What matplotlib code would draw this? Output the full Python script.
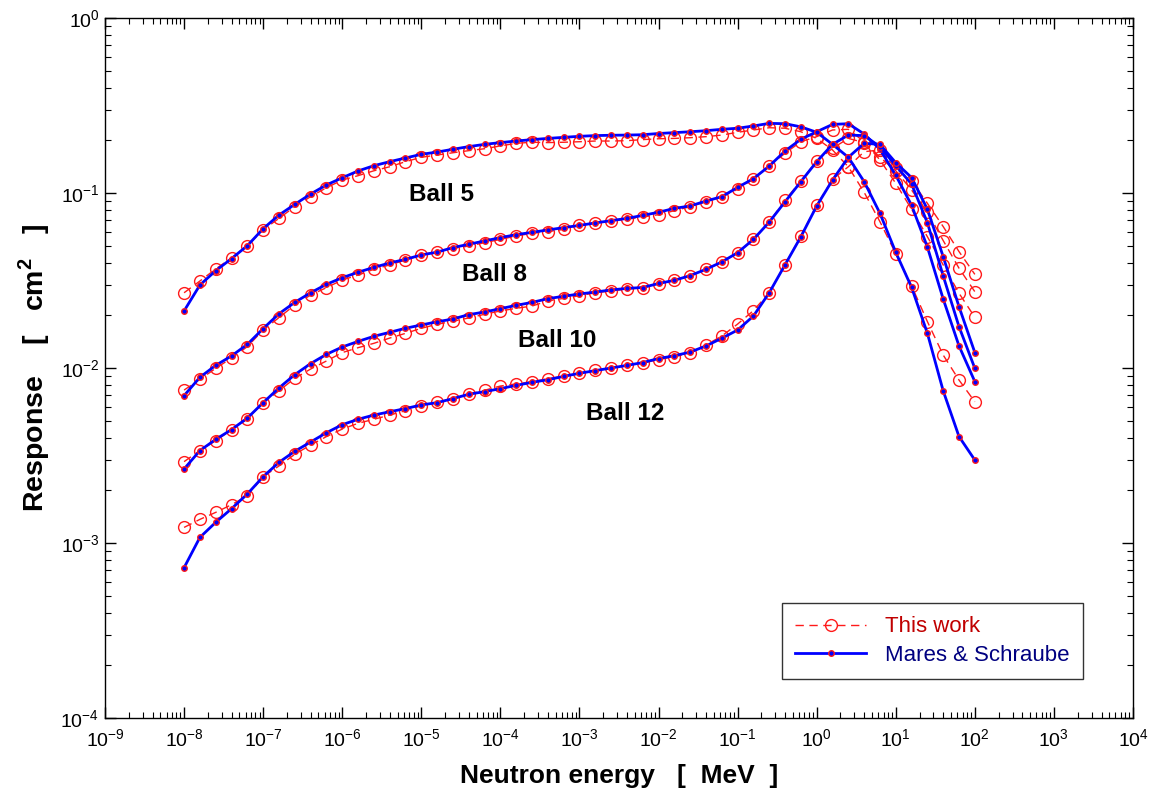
import numpy as np
import matplotlib
matplotlib.use("Agg")
import matplotlib.pyplot as plt
from matplotlib.ticker import LogLocator, NullFormatter

plt.rcParams['font.family'] = ['Liberation Sans', 'DejaVu Sans']
plt.rcParams['mathtext.fontset'] = 'custom'
plt.rcParams['mathtext.rm'] = 'Liberation Sans'
plt.rcParams['mathtext.bf'] = 'Liberation Sans:bold'

# Neutron energy grid, log10(E / MeV)
energy_log10 = [-8.0, -7.8, -7.6, -7.4, -7.2, -7.0, -6.8, -6.6, -6.4, -6.2,
                -6.0, -5.8, -5.6, -5.4, -5.2, -5.0, -4.8, -4.6, -4.4, -4.2,
                -4.0, -3.8, -3.6, -3.4, -3.2, -3.0, -2.8, -2.6, -2.4, -2.2,
                -2.0, -1.8, -1.6, -1.4, -1.2, -1.0, -0.8, -0.6, -0.4, -0.2,
                0.0, 0.2, 0.4, 0.6, 0.8, 1.0, 1.2, 1.4, 1.6, 1.8, 2.0]

# log10(response / cm^2)
ball5_mares = [-1.674, -1.526, -1.444, -1.375, -1.301, -1.204, -1.126, -1.065, -1.006, -0.954,
               -0.913, -0.874, -0.844, -0.821, -0.800, -0.779, -0.766, -0.750, -0.735, -0.722,
               -0.712, -0.703, -0.695, -0.688, -0.682, -0.676, -0.672, -0.670, -0.669, -0.667,
               -0.660, -0.655, -0.650, -0.644, -0.636, -0.630, -0.617, -0.602, -0.604, -0.622,
               -0.653, -0.722, -0.796, -0.935, -1.116, -1.339, -1.539, -1.802, -2.131, -2.392, -2.526]
ball5_this = [-1.570, -1.503, -1.434, -1.371, -1.301, -1.211, -1.145, -1.078, -1.021, -0.970,
              -0.926, -0.901, -0.873, -0.850, -0.821, -0.796, -0.783, -0.770, -0.758, -0.747,
              -0.731, -0.716, -0.710, -0.712, -0.710, -0.707, -0.703, -0.703, -0.701, -0.695,
              -0.690, -0.688, -0.684, -0.678, -0.669, -0.653, -0.640, -0.627, -0.630, -0.650,
              -0.688, -0.754, -0.850, -0.996, -1.164, -1.347, -1.530, -1.735, -1.926, -2.069, -2.193]

ball8_mares = [-2.158, -2.053, -1.985, -1.931, -1.865, -1.775, -1.690, -1.625, -1.570, -1.522,
               -1.484, -1.453, -1.425, -1.400, -1.379, -1.354, -1.338, -1.312, -1.293, -1.274,
               -1.255, -1.238, -1.225, -1.211, -1.198, -1.185, -1.171, -1.158, -1.145, -1.128,
               -1.110, -1.088, -1.074, -1.046, -1.021, -0.968, -0.918, -0.846, -0.760, -0.693,
               -0.650, -0.608, -0.604, -0.663, -0.750, -0.899, -1.070, -1.309, -1.606, -1.874, -2.078]
ball8_this = [-2.126, -2.065, -2.002, -1.943, -1.878, -1.783, -1.712, -1.640, -1.583, -1.541,
              -1.497, -1.469, -1.436, -1.411, -1.383, -1.354, -1.335, -1.318, -1.303, -1.284,
              -1.265, -1.246, -1.230, -1.221, -1.208, -1.183, -1.170, -1.160, -1.150, -1.137,
              -1.124, -1.101, -1.078, -1.050, -1.021, -0.979, -0.918, -0.846, -0.773, -0.707,
              -0.678, -0.640, -0.636, -0.707, -0.811, -0.945, -1.093, -1.250, -1.411, -1.573, -1.710]

ball10_mares = [-2.577, -2.472, -2.408, -2.352, -2.286, -2.198, -2.114, -2.038, -1.975, -1.922,
                -1.880, -1.848, -1.819, -1.796, -1.773, -1.754, -1.736, -1.720, -1.695, -1.680,
                -1.661, -1.642, -1.625, -1.604, -1.590, -1.577, -1.566, -1.554, -1.545, -1.540,
                -1.517, -1.499, -1.472, -1.436, -1.394, -1.341, -1.265, -1.166, -1.050, -0.935,
                -0.821, -0.722, -0.669, -0.672, -0.735, -0.844, -0.949, -1.170, -1.474, -1.764, -2.002]
ball10_this = [-2.535, -2.472, -2.415, -2.354, -2.291, -2.198, -2.130, -2.059, -2.006, -1.960,
               -1.912, -1.884, -1.859, -1.829, -1.802, -1.773, -1.750, -1.733, -1.714, -1.693,
               -1.674, -1.659, -1.646, -1.617, -1.602, -1.587, -1.570, -1.560, -1.549, -1.541,
               -1.520, -1.499, -1.472, -1.436, -1.394, -1.341, -1.265, -1.166, -1.040, -0.932,
               -0.817, -0.745, -0.688, -0.712, -0.796, -0.873, -0.983, -1.109, -1.272, -1.430, -1.564]

ball12_mares = [-3.141, -2.968, -2.882, -2.804, -2.720, -2.621, -2.539, -2.476, -2.423, -2.370,
                -2.324, -2.293, -2.269, -2.250, -2.232, -2.211, -2.198, -2.175, -2.150, -2.135,
                -2.118, -2.099, -2.082, -2.067, -2.048, -2.030, -2.015, -2.000, -1.985, -1.969,
                -1.946, -1.930, -1.909, -1.874, -1.830, -1.783, -1.703, -1.570, -1.410, -1.250,
                -1.074, -0.926, -0.796, -0.716, -0.722, -0.827, -0.912, -1.093, -1.364, -1.650, -1.912]
ball12_this = [-2.911, -2.865, -2.825, -2.781, -2.730, -2.621, -2.560, -2.493, -2.440, -2.392,
               -2.349, -2.316, -2.293, -2.269, -2.244, -2.215, -2.196, -2.175, -2.150, -2.127,
               -2.103, -2.091, -2.078, -2.061, -2.046, -2.030, -2.013, -2.000, -1.985, -1.972,
               -1.952, -1.935, -1.916, -1.869, -1.817, -1.749, -1.672, -1.570, -1.410, -1.246,
               -1.070, -0.922, -0.850, -0.764, -0.754, -0.859, -0.931, -1.059, -1.192, -1.335, -1.465]

ball_names = ["Ball 5", "Ball 8", "Ball 10", "Ball 12"]
this_series = [ball5_this, ball8_this, ball10_this, ball12_this]
mares_series = [ball5_mares, ball8_mares, ball10_mares, ball12_mares]
label_pos = [(1.8e-5, 0.0975), (8.4e-5, 0.034), (5.3e-4, 0.0143), (3.75e-3, 0.00553)]

E = 10.0 ** np.array(energy_log10)

fig = plt.figure(figsize=(11.55, 8.01), dpi=100)
ax = fig.add_axes([105/1155, 1 - 718/801, 1028/1155, 700/801])

red = '#ff1a1a'
blue = '#0000ff'
for i in range(4):
    ax.plot(E, 10.0 ** np.array(this_series[i]), color=red, lw=1.0, dashes=(6, 4),
            marker='o', ms=8.5, mfc='none', mec=red, mew=1.0, zorder=2,
            label='This work' if i == 0 else None)
for i in range(4):
    ax.plot(E, 10.0 ** np.array(mares_series[i]), color=blue, lw=2.0, ls='-',
            marker='o', ms=4, mfc=blue, mec=red, mew=1.0, zorder=3,
            label='Mares & Schraube' if i == 0 else None)

for name, (x, y) in zip(ball_names, label_pos):
    ax.text(x, y, name, fontsize=17.5, fontweight='bold', ha='center', va='center')

ax.set_xscale('log')
ax.set_yscale('log')
ax.set_xlim(1e-9, 1e4)
ax.set_ylim(1e-4, 1e0)
ax.xaxis.set_major_locator(LogLocator(base=10, numticks=30))
ax.yaxis.set_major_locator(LogLocator(base=10, numticks=30))
ax.xaxis.set_minor_locator(LogLocator(base=10, subs=np.arange(2, 10), numticks=200))
ax.yaxis.set_minor_locator(LogLocator(base=10, subs=np.arange(2, 10), numticks=200))
ax.xaxis.set_minor_formatter(NullFormatter())
ax.yaxis.set_minor_formatter(NullFormatter())
ax.tick_params(which='both', direction='in', top=True, right=True, labelsize=14)
ax.tick_params(which='major', length=8, width=1)
ax.tick_params(which='minor', length=4, width=0.8)
ax.tick_params(axis='x', which='major', pad=7)
ax.tick_params(axis='y', which='major', pad=4)
for s in ax.spines.values():
    s.set_linewidth(1.0)

ax.set_xlabel('Neutron energy   [  MeV  ]', fontsize=19, fontweight='bold', labelpad=10)
ax.set_ylabel('Response    [   cm$^{\\mathbf{2}}$   ]', fontsize=20.5, fontweight='bold', labelpad=6)

leg = ax.legend(loc='upper left', bbox_to_anchor=(0.6586, 0.1643), borderaxespad=0,
                fancybox=False, frameon=True, edgecolor='black', fontsize=16,
                handlelength=3.2, borderpad=0.6, labelspacing=0.35, handletextpad=0.85)
leg.get_frame().set_linewidth(1.0)
leg.get_texts()[0].set_color('#c00000')
leg.get_texts()[1].set_color('#000080')

fig.savefig('out.png', dpi=100)
